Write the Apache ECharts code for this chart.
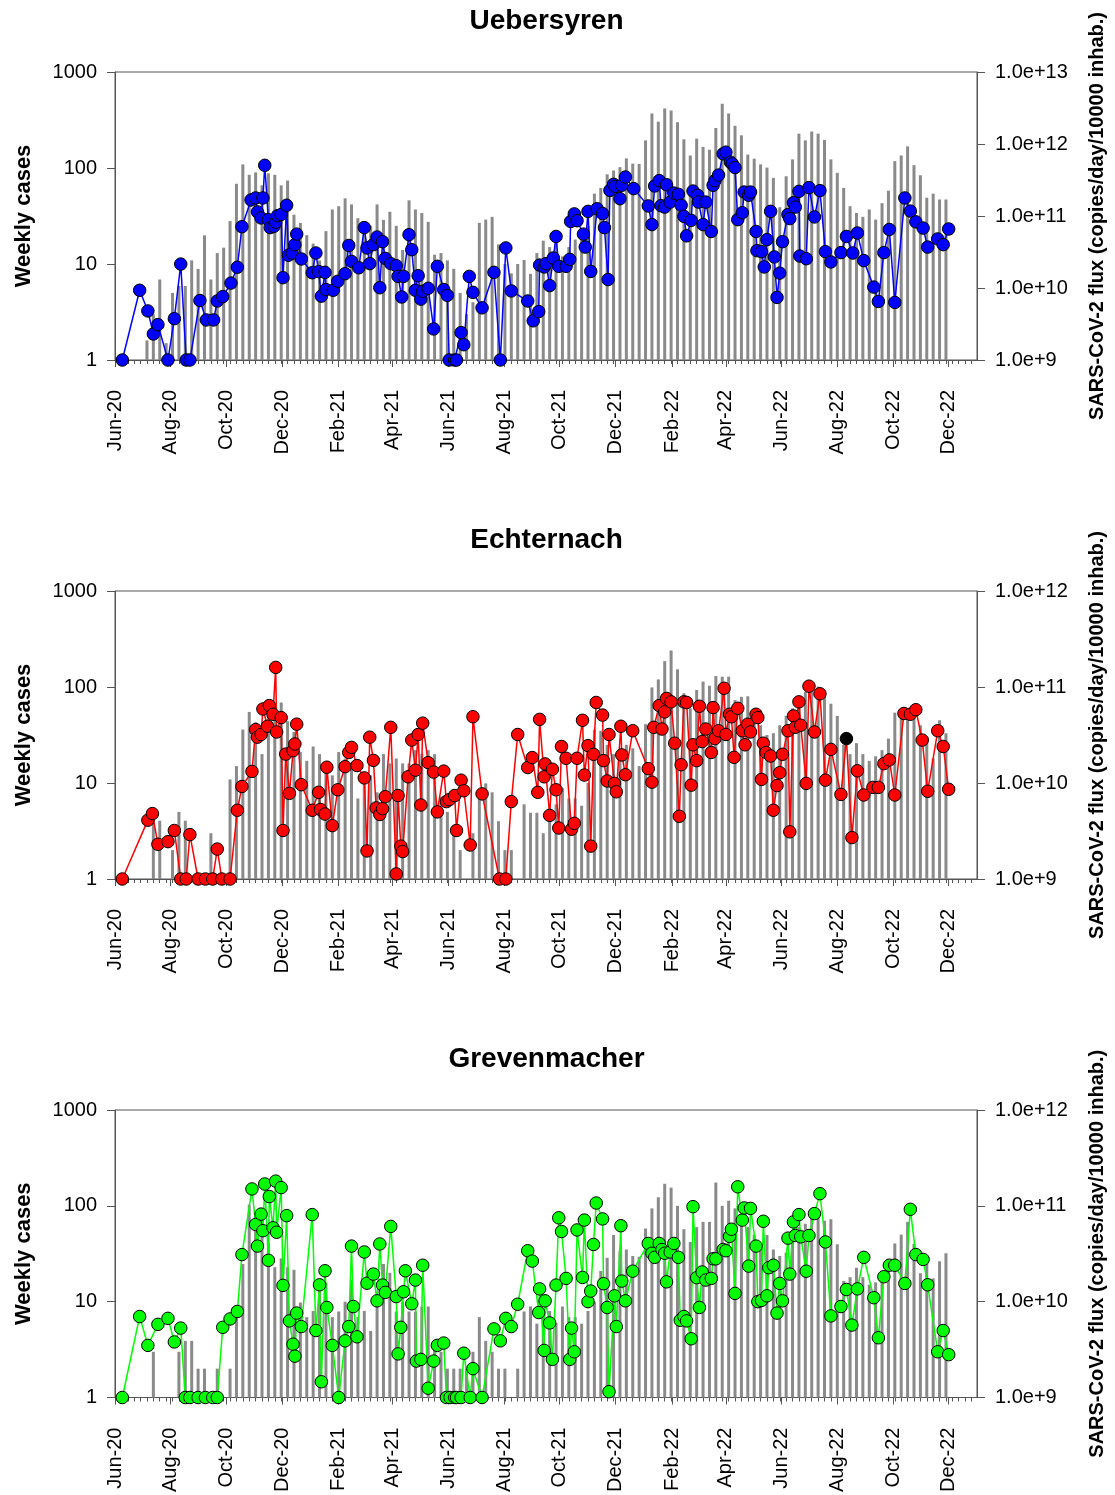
<!DOCTYPE html>
<html><head><meta charset="utf-8">
<script src="https://cdn.jsdelivr.net/npm/echarts/dist/echarts.min.js"></script>
<style>html,body{margin:0;padding:0;background:#fff}#c{width:1115px;height:1495px}</style>
</head><body><div id="c"></div>
<script>
// ---------------- DATA ----------------
const panelTitles = ['Uebersyren', 'Echternach', 'Grevenmacher'];
const xTickLabels = ['Jun-20','Aug-20','Oct-20','Dec-20','Feb-21','Apr-21','Jun-21','Aug-21','Oct-21','Dec-21','Feb-22','Apr-22','Jun-22','Aug-22','Oct-22','Dec-22'];
const leftAxisName = 'Weekly cases';
const rightAxisName = 'SARS-CoV-2 flux (copies/day/10000 inhab.)';
const firstBarWeek = '2020-07-06'; // weekly bars, one per week from this Monday

// weekly cases (gray bars), one value per week; null = no bar
const uebCases = [1.6,3.0,6.9,1.5,5.0,5.9,5.9,10.9,8.9,19.9,6.9,13,14.8,28,68.5,109,85,90,66,88,85,66,74,32.6,26.8,20,16.3,10.9,22,37,40,48.3,41.8,30,28,25,41.8,28.8,35,25,14,
 46,37,34,27.5,12.5,13,10.9,8.9,5,3,4,26.8,29,31,16,10,8,10,11,7.9,13,17.5,15,18,12,15,18,20,25,54,62,86,94,102,126,111,110,194,370,304,417,397,300,199,135,
 202,166,155,261,468,370,275,219,138,125,109,101,79,39,82,123,228,194,240,228,196,123,89,62,40,34,31,37,29,43,58,118,135,168,107,84,49,54,47,47];
const echCases = [null,4.1,4.05,null,2.0,5.0,4.05,null,null,null,3.0,null,null,10.9,15,36,55,43,20,45,50,69,44,34,21,17,24,20,15,12,21,18,16,6.9,10,12,8.0,20,16,18,16,
 16,22,20,22,20,7.2,5,3.0,2.0,null,3.0,6.9,9.9,8.0,4.0,2.0,2.0,null,6.0,4.9,4.9,3.0,4,6,8.8,6.9,6.9,5.8,10,36,35,25,20,22,25,23,15,41,99,120,186,240,153,86,60,
 93,114,103,130,128,128,73,79,80,60,40,31.6,33,40,50,60,80,89,95,101,80,67,50,25,20,26,20,17,19,22,29,54,51,50,50,40,30,18,45,33];
const greCases = [null,3.0,null,null,null,3.0,3.9,3.9,2.0,2.0,null,2.0,null,2.0,7.9,24.7,103,60,50,41.5,22.9,28.3,22.9,21.5,9.8,6.9,8,15.5,15.9,6.9,7.9,10,16.8,6.9,8,4.95,9.8,24.7,20,7.9,10,
 7.9,7.9,8.9,8.9,3.9,3.0,2,2.0,2,2,3,6.9,3.9,3,2,2,null,2,7.9,8.9,5.9,8,8,6,8.9,6.9,6.9,5.9,8,10,20.9,28.7,49.6,33.7,35,30,29.4,58,94,123,170,155,100,57,42,
 60,68,68,175,100,113,94,70,60,50,40,49.6,35,30,32.6,45,60,65,80,90,70,72.5,39.7,16.4,18,22.6,18,15,15.9,18,25,40.5,50,68,40,19.8,25,17.5,26.4,32];

// SARS-CoV-2 flux samples: [days since 2020-06-01, copies/day/10000 inhab.]
const uebFlux = [[8,1e9],[27,9.3e9],[36,4.8e9],[42,2.3e9],[47,3.1e9],[58,1e9],[65,3.75e9],[72,2.15e10],[78,1e9],[82,1e9],[93,6.7e9],[100,3.6e9],[108,3.6e9],[112,6.6e9],[118,7.6e9],[127,1.17e10],[134,1.94e10],[139,7.1e10],[149,1.67e11],[154,1.78e11],[156,1.14e11],[160,9.4e10],[162,1.78e11],[164,5.06e11],[168,8.9e10],[170,6.9e10],[174,7.2e10],[176,8.2e10],[178,1.01e11],[182,1.05e11],[184,1.39e10],[188,1.41e11],[190,2.85e10],[194,3.06e10],[197,4.0e10],[199,5.6e10],[204,2.53e10],[216,1.63e10],[220,3.06e10],[223,1.69e10],[226,7.7e9],[230,1.65e10],[231,9.5e9],[239,9.3e9],[244,1.24e10],[252,1.58e10],[256,3.9e10],[259,2.34e10],[267,1.91e10],[273,6.9e10],[276,3.6e10],[279,2.18e10],[283,4.0e10],[287,5.1e10],[290,1.01e10],[293,4.4e10],[296,2.58e10],[302,2.18e10],[308,2.04e10],[310,1.45e10],[314,7.5e9],[316,1.45e10],
 [322,5.5e10],[325,3.4e10],[329,9.3e9],[332,1.48e10],[335,7.0e9],[337,9.0e9],[343,9.9e9],[349,2.7e9],[353,2.0e10],[360,9.5e9],[364,7.9e9],[366,1e9],[372,1e9],[374,1e9],[379,2.4e9],[382,1.63e9],[388,1.45e10],[392,8.7e9],[402,5.3e9],[415,1.65e10],[422,1e9],[428,3.6e10],[434,9.1e9],[452,6.6e9],[458,3.5e9],[464,4.7e9],[465,2.08e10],[470,1.96e10],[472,2.18e10],[476,1.08e10],[480,2.61e10],[483,5.2e10],[486,2.0e10],[494,2.0e10],[498,2.5e10],[499,8.4e10],[503,1.07e11],[506,8.6e10],[513,5.6e10],[515,3.7e10],[518,1.16e11],[521,1.70e10],[528,1.26e11],[534,1.08e11],[536,6.9e10],[540,1.31e10],[542,2.27e11],[546,2.75e11],[548,2.58e11],[553,1.74e11],[555,2.67e11],[559,3.48e11],[568,2.4e11],[584,1.38e11],[588,7.6e10],[591,2.61e11],[596,3.1e11],[598,1.39e11],[602,1.33e11],[604,2.72e11],[608,1.56e11],[612,2.08e11],[617,2.0e11],[620,1.41e11],[623,9.9e10],[626,5.3e10],[631,8.7e10],[633,2.22e11],
 [638,1.94e11],[639,1.56e11],[644,7.6e10],[647,1.56e11],[653,6.1e10],[655,2.67e11],[657,3.1e11],[661,3.7e11],[666,7.3e11],[669,7.7e11],[674,5.6e11],[676,5.3e11],[679,4.7e11],[682,8.9e10],[687,1.11e11],[689,2.15e11],[694,1.94e11],[696,2.15e11],[702,6.1e10],[703,3.3e10],[708,3.2e10],[711,1.96e10],[714,4.7e10],[718,1.16e11],[722,2.7e10],[725,7.4e9],[728,1.61e10],[731,4.4e10],[737,1.05e11],[739,9.2e10],[743,1.53e11],[745,1.33e11],[749,2.2e11],[750,2.78e10],[757,2.55e10],[760,2.48e11],[766,9.7e10],[772,2.25e11],[778,3.2e10],[784,2.3e10],[795,3.1e10],[801,5.2e10],[808,3.06e10],[813,5.8e10],[820,2.4e10],[831,1.03e10],[836,6.5e9],[842,3.1e10],[848,6.5e10],[854,6.3e9],[865,1.78e11],[871,1.17e11],[877,8.3e10],[885,6.8e10],[890,3.7e10],[901,4.8e10],[907,4.0e10],[913,6.6e10]];

const echFlux = [[8,1e9],[36,4.1e9],[41,4.8e9],[47,2.3e9],[58,2.45e9],[65,3.2e9],[72,1e9],[78,1e9],[82,2.9e9],[91,1e9],[99,1e9],[107,1e9],[112,2.05e9],[117,1e9],[126,1e9],[134,5.2e9],[139,9.2e9],[150,1.32e10],[154,3.6e10],[156,3.0e10],[160,3.2e10],[162,5.9e10],[167,3.9e10],[169,6.4e10],[173,5.2e10],[176,1.6e11],[177,3.4e10],[182,4.8e10],[184,3.2e9],[187,2.0e10],[191,7.8e9],[195,2.17e10],[197,2.55e10],[199,4.1e10],[204,9.6e9],[216,5.2e9],[223,8.0e9],[225,5.3e9],[230,4.75e9],[232,1.46e10],[238,3.6e9],[244,8.5e9],[252,1.48e10],[256,2.08e10],[259,2.35e10],[265,1.52e10],[273,1.13e10],[276,1.96e9],[279,3.0e10],[283,1.72e10],[286,5.5e9],[290,4.7e9],[293,5.4e9],[296,7.2e9],[302,3.8e10],[308,1.13e9],[310,7.4e9],[313,2.2e9],[315,1.93e9],
 [321,1.16e10],[325,2.8e10],[329,1.36e10],[332,3.2e10],[335,5.9e9],[337,4.2e10],[343,1.63e10],[349,1.30e10],[353,5.0e9],[360,1.33e10],[363,6.4e9],[366,6.7e9],[372,7.4e9],[374,3.2e9],[379,1.07e10],[382,8.3e9],[389,2.26e9],[392,4.9e10],[402,7.7e9],[421,1e9],[428,1e9],[434,6.4e9],[441,3.2e10],[452,1.45e10],[457,1.84e10],[463,8.0e9],[465,4.6e10],[470,1.16e10],[471,1.58e10],[476,4.6e9],[479,1.39e10],[483,8.5e9],[486,3.4e9],[489,2.4e10],[494,1.81e10],[500,3.3e9],[503,3.8e9],[506,1.81e10],[512,4.5e10],[514,1.21e10],[518,2.45e10],[521,2.2e9],[524,1.99e10],[527,6.9e10],[534,5.1e10],[535,1.71e10],[539,1.05e10],[541,3.2e10],[547,9.9e9],[549,8.1e9],[554,3.9e10],[555,1.96e10],[559,1.22e10],[567,3.5e10],[584,1.41e10],[588,1.02e10],[590,3.8e10],[596,6.4e10],[599,3.65e10],[602,5.5e10],[604,7.6e10],[609,7.0e10],[613,2.6e10],[618,4.5e9],[620,1.55e10],[623,7.0e10],[626,6.9e10],[631,9.5e9],[633,2.5e10],
 [637,1.71e10],[640,6.3e10],[643,2.7e10],[647,3.65e10],[653,2.08e10],[655,6.1e10],[657,2.9e10],[661,3.5e10],[667,9.7e10],[669,3.2e10],[673,5.2e10],[675,4.9e10],[678,1.85e10],[682,6.0e10],[687,3.5e10],[690,2.5e10],[693,4.1e10],[696,3.4e10],[702,5.2e10],[704,4.8e10],[708,1.09e10],[710,2.6e10],[713,2.08e10],[718,1.91e10],[721,5.2e9],[725,9.4e9],[728,1.28e10],[731,1.99e10],[737,3.5e10],[739,3.1e9],[743,5.0e10],[745,3.8e10],[749,7.0e10],[751,4.0e10],[757,9.9e9],[760,1.02e11],[766,3.4e10],[772,8.5e10],[778,1.07e10],[784,2.24e10],[795,7.6e9],[801,2.9e10],[807,2.7e9],[813,1.34e10],[820,7.5e9],[830,9.0e9],[836,9.0e9],[842,1.59e10],[848,1.74e10],[854,7.5e9],[864,5.3e10],[871,5.2e10],[877,5.8e10],[884,2.8e10],[890,8.2e9],[901,3.5e10],[907,2.4e10],[913,8.6e9]];
const echBlackPointDay = 801; // sample drawn with a black marker

const greFlux = [[8,1e9],[27,7.0e9],[36,3.5e9],[47,5.8e9],[58,6.7e9],[65,3.8e9],[72,5.3e9],[77,1e9],[82,1e9],[91,1e9],[99,1e9],[107,1e9],[112,1e9],[118,5.4e9],[126,6.6e9],[134,7.9e9],[139,3.1e10],[150,1.5e11],[154,6.4e10],[156,3.8e10],[160,8.2e10],[162,5.5e10],[164,1.69e11],[168,2.7e10],[169,1.25e11],[173,5.9e10],[176,1.81e11],[177,5.3e10],[182,1.55e11],[184,1.48e10],[188,7.9e10],[191,6.3e9],[195,3.6e9],[197,2.7e9],[199,7.6e9],[204,5.5e9],[216,8.1e10],[220,5.0e9],[224,1.5e10],[226,1.46e9],[230,2.1e10],[232,8.7e9],[238,3.5e9],[245,1e9],[252,3.9e9],[256,5.5e9],[259,3.8e10],[261,8.9e9],[265,4.3e9],[273,3.3e10],[276,1.56e10],[283,1.94e10],[287,1.02e10],[290,4.0e10],[293,1.49e10],[296,1.25e10],[302,6.1e10],[308,1.13e10],[310,2.85e9],[313,5.4e9],[316,1.27e10],[318,2.1e10],
 [325,9.5e9],[329,1.68e10],[330,2.4e9],[335,2.5e9],[337,2.4e10],[343,1.25e9],[349,2.4e9],[353,3.5e9],[360,3.7e9],[363,1e9],[367,1e9],[372,1e9],[374,1e9],[379,1e9],[382,2.9e9],[389,1e9],[392,2.0e9],[402,1e9],[415,5.2e9],[422,3.9e9],[428,6.7e9],[434,5.5e9],[441,9.4e9],[452,3.4e10],[457,2.65e10],[464,7.7e9],[465,1.36e10],[470,3.1e9],[471,1.02e10],[476,6.0e9],[479,2.5e9],[483,1.49e10],[486,7.5e10],[489,5.4e10],[494,1.75e10],[498,2.5e9],[500,5.3e9],[503,3.0e9],[506,5.6e10],[512,1.79e10],[514,7.1e10],[518,1.0e10],[521,1.29e10],[524,3.95e10],[527,1.07e11],[534,7.3e10],[535,1.54e10],[539,8.7e9],[541,1.15e9],[547,1.15e10],[549,5.5e9],[554,6.2e10],[555,1.64e10],[559,1.02e10],[567,2.08e10],[584,4.05e10],[588,3.2e10],[591,2.9e10],[596,4.05e10],[599,3.5e10],[602,3.2e10],[604,1.61e10],[608,3.3e10],[612,4.05e10],[617,2.9e10],[619,6.4e9],[623,7.0e9],[626,6.3e9],[631,4.1e9],[633,9.8e10],
 [637,1.78e10],[640,8.7e9],[643,2.04e10],[647,1.68e10],[653,1.75e10],[655,2.8e10],[658,2.8e10],[666,3.5e10],[669,3.4e10],[673,4.8e10],[675,5.7e10],[679,1.22e10],[682,1.58e11],[687,7.1e10],[689,9.5e10],[694,2.35e10],[696,9.4e10],[702,3.8e10],[704,1.0e10],[708,1.03e10],[710,6.9e10],[714,1.15e10],[716,2.26e10],[721,2.4e10],[725,7.6e9],[728,1.55e10],[731,1.02e10],[737,4.6e10],[739,1.94e10],[743,6.8e10],[745,4.9e10],[749,8.1e10],[751,4.75e10],[757,2.08e10],[760,4.9e10],[766,8.3e10],[772,1.34e11],[778,4.2e10],[784,7.1e9],[795,8.9e9],[801,1.34e10],[807,5.7e9],[813,1.36e10],[820,2.9e10],[831,1.1e10],[836,4.2e9],[842,1.82e10],[848,2.4e10],[854,2.4e10],[865,1.55e10],[871,9.2e10],[877,3.1e10],[885,2.76e10],[890,1.5e10],[901,3.0e9],[907,5.0e9],[913,2.8e9]];

const rightAxisMax = [1e13, 1e12, 1e12];
const seriesColors = ['#0000ff', '#ff0000', '#00ff00'];

// ---------------- BUILD ----------------
const DAY = 86400000;
const T0 = Date.UTC(2020, 5, 1);
const TEND = Date.UTC(2023, 0, 1);
const MONTHS = {Jan:0,Feb:1,Mar:2,Apr:3,May:4,Jun:5,Jul:6,Aug:7,Sep:8,Oct:9,Nov:10,Dec:11};
const labelTs = xTickLabels.map(s => { const p = s.split('-'); return Date.UTC(2000 + Number(p[1]), MONTHS[p[0]], 1); });
const labelMap = {}; labelTs.forEach((t, i) => { labelMap[t] = xTickLabels[i]; });
const weekTicks = []; for (let t = T0; t <= TEND; t += 7 * DAY) weekTicks.push(t);
const barT0 = Date.parse(firstBarWeek + 'T00:00:00Z');
const casesAll = [uebCases, echCases, greCases];
const fluxAll = [uebFlux, echFlux, greFlux];

const FONT = '"Liberation Sans", Arial, Helvetica, sans-serif';
const AX = '#555';
const gridTops = [72, 591, 1110];
const gridH = 288;

const grid = [], xAxis = [], yAxis = [], series = [], graphic = [];
for (let p = 0; p < 3; p++) {
  grid.push({left: 115, right: 137, top: gridTops[p], height: gridH, show: true, borderColor: AX, borderWidth: 1, backgroundColor: 'transparent'});
  xAxis.push({gridIndex: p, type: 'value', min: T0, max: TEND, position: 'bottom', scale: true,
    axisLine: {show: true, onZero: false, lineStyle: {color: AX, width: 1}},
    axisTick: {show: true, customValues: weekTicks, length: 4, lineStyle: {color: AX}},
    axisLabel: {show: false}, splitLine: {show: false}});
  xAxis.push({gridIndex: p, type: 'value', min: T0, max: TEND, position: 'bottom', scale: true,
    axisLine: {show: false, onZero: false},
    axisTick: {show: true, customValues: labelTs, length: 7, lineStyle: {color: AX}},
    axisLabel: {show: true, customValues: labelTs, rotate: 90, fontSize: 20, fontFamily: FONT, color: '#000', margin: 30,
      formatter: v => labelMap[v] || ''},
    splitLine: {show: false}});
  yAxis.push({gridIndex: p, type: 'log', logBase: 10, min: 1, max: 1000, position: 'left',
    axisLine: {show: true, lineStyle: {color: AX}},
    axisTick: {show: true, length: 8, lineStyle: {color: AX}},
    axisLabel: {fontSize: 20, fontFamily: FONT, color: '#000', margin: 18, formatter: v => String(Math.round(v))},
    splitLine: {show: false},
    name: leftAxisName, nameLocation: 'middle', nameGap: 80, nameRotate: 90,
    nameTextStyle: {fontSize: 22, fontWeight: 'bold', fontFamily: FONT, color: '#000'}});
  yAxis.push({gridIndex: p, type: 'log', logBase: 10, min: 1e9, max: rightAxisMax[p], position: 'right',
    axisLine: {show: true, lineStyle: {color: AX}},
    axisTick: {show: true, length: 8, lineStyle: {color: AX}},
    axisLabel: {fontSize: 20, fontFamily: FONT, color: '#000', margin: 18, formatter: v => Number(v).toExponential(1)},
    splitLine: {show: false},
    name: rightAxisName, nameLocation: 'middle', nameGap: 110, nameRotate: 90,
    nameTextStyle: {fontSize: 20, fontWeight: 'bold', fontFamily: FONT, color: '#000'}});

  series.push({type: 'bar', xAxisIndex: 2 * p, yAxisIndex: 2 * p, barWidth: 3, z: 1,
    itemStyle: {color: '#8a8a8a'},
    data: casesAll[p].map((v, i) => [barT0 + i * 7 * DAY, v])});
  const col = seriesColors[p];
  series.push({type: 'line', xAxisIndex: 2 * p, yAxisIndex: 2 * p + 1, z: 3, clip: false,
    symbol: 'circle', symbolSize: 12.5, showAllSymbol: true,
    lineStyle: {color: col, width: 1.5},
    itemStyle: {color: col, borderColor: '#000', borderWidth: 1},
    data: fluxAll[p].map(d => {
      const item = {value: [T0 + d[0] * DAY, d[1]]};
      if (p === 1 && d[0] === echBlackPointDay) item.itemStyle = {color: '#000', borderColor: '#000'};
      return item;
    })});

  graphic.push({type: 'text', x: 546.5, y: gridTops[p] - 51, z: 10,
    style: {text: panelTitles[p], font: 'bold 28px ' + FONT, fill: '#000', textAlign: 'center', textVerticalAlign: 'middle', align: 'center', verticalAlign: 'middle'}});
}

const chart = echarts.init(document.getElementById('c'), null, {renderer: 'canvas'});
chart.setOption({animation: false, backgroundColor: '#fff', textStyle: {fontFamily: FONT},
  grid, xAxis, yAxis, series, graphic});
</script></body></html>
